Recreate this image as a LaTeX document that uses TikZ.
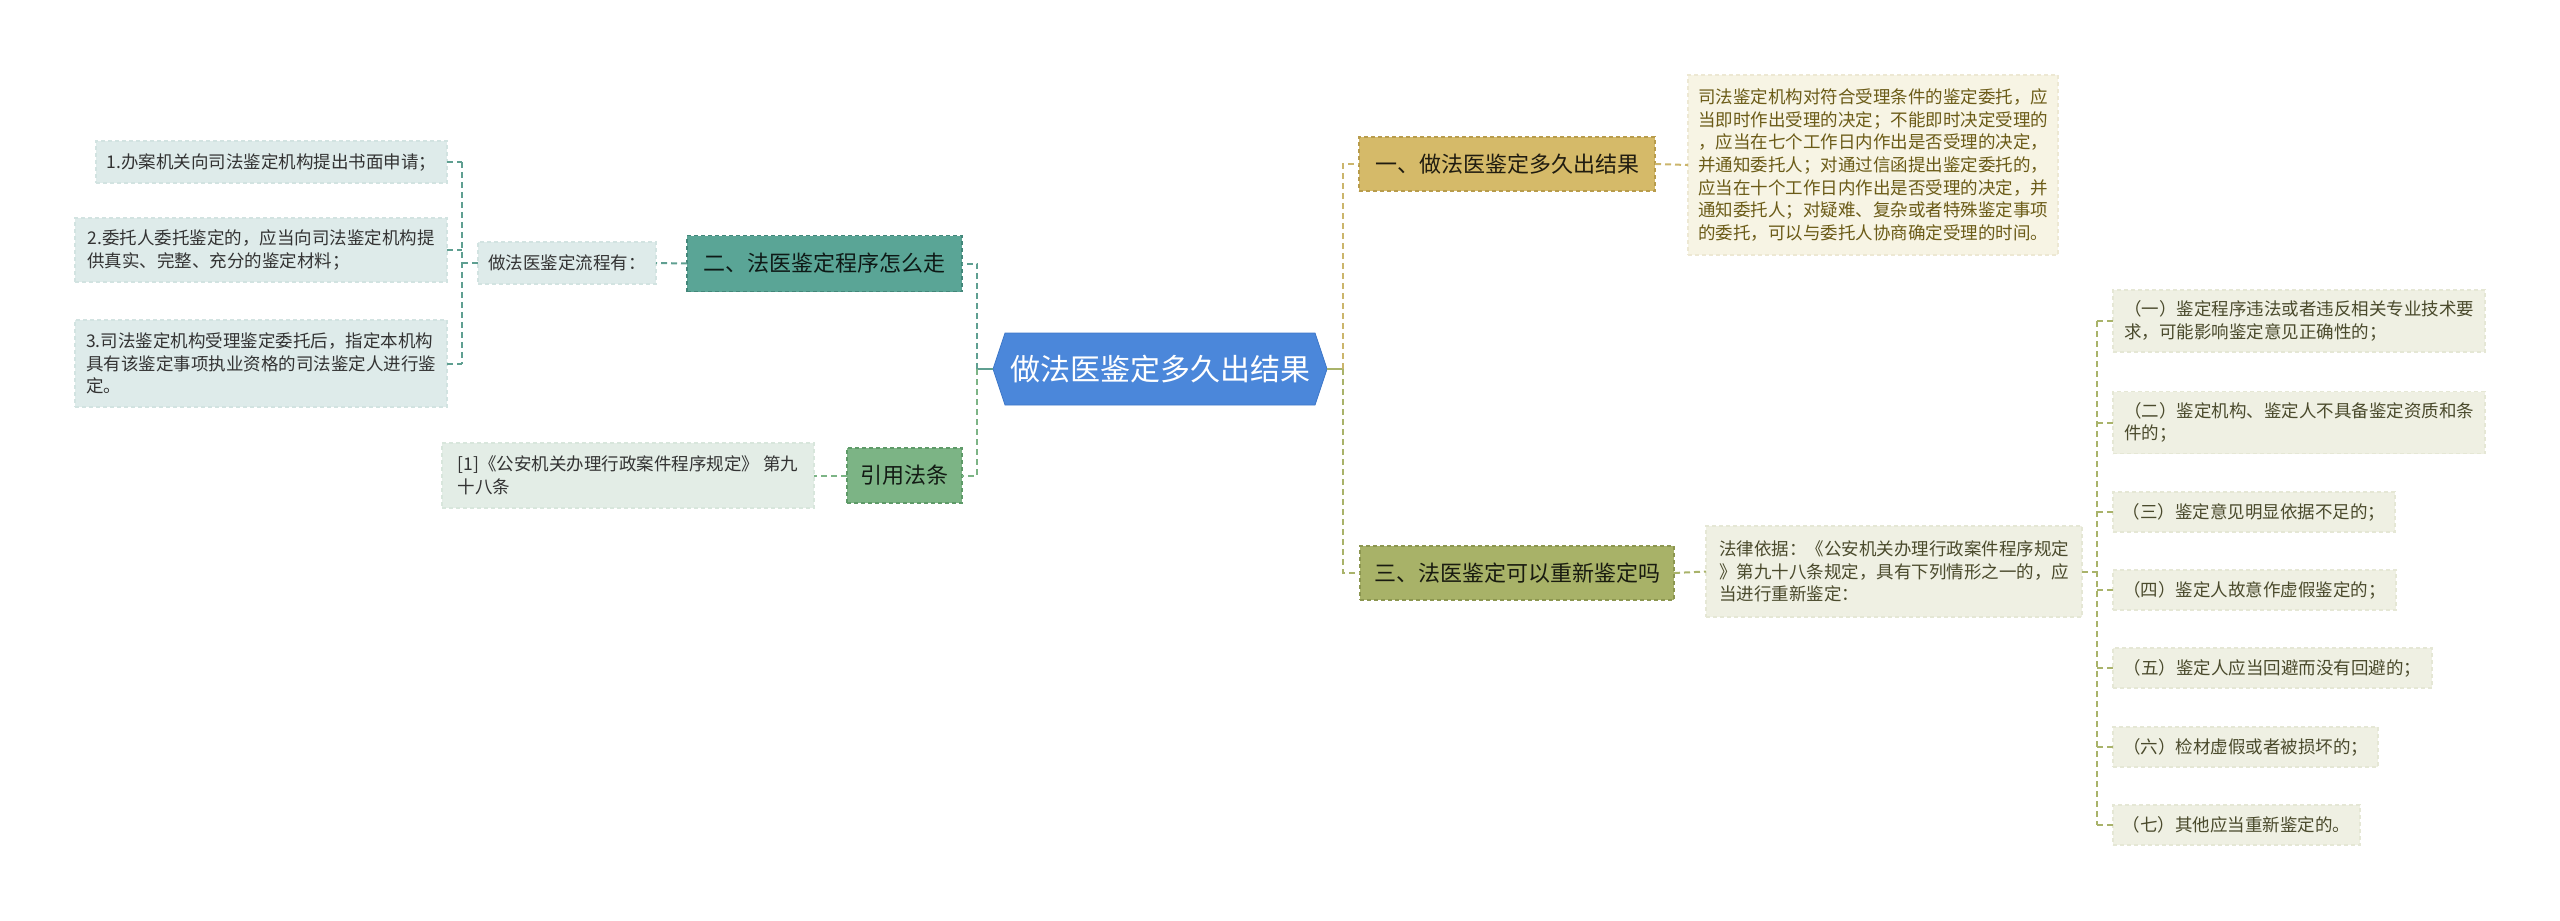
\documentclass[tikz,border=0pt]{standalone}
\usepackage{fontspec}
\setmainfont{Noto Sans CJK SC}
\definecolor{cblue}{HTML}{4B87DA}
\definecolor{cbluedk}{HTML}{3F78C8}
\definecolor{cteal}{HTML}{5AA596}
\definecolor{ctealdk}{HTML}{43877A}
\definecolor{cgreen}{HTML}{7CB485}
\definecolor{cgreendk}{HTML}{5E9A68}
\definecolor{cgold}{HTML}{D5BA69}
\definecolor{cgolddk}{HTML}{B89C4C}
\definecolor{colive}{HTML}{A8B268}
\definecolor{colivedk}{HTML}{8C9650}
\definecolor{ltteal}{HTML}{DEEBEA}
\definecolor{ltteald}{HTML}{D2E3E1}
\definecolor{ltgreen}{HTML}{E3EDE6}
\definecolor{ltgreend}{HTML}{D8E6DC}
\definecolor{cream}{HTML}{F7F4E4}
\definecolor{creamd}{HTML}{EDE8D3}
\definecolor{ltolive}{HTML}{EFF0E3}
\definecolor{ltolived}{HTML}{E5E7D5}
\definecolor{txdark}{HTML}{333333}
\definecolor{txcream}{HTML}{6B5B17}
\definecolor{txolive}{HTML}{4A4A2C}
\definecolor{lteal}{HTML}{5F9F91}
\definecolor{lgreen}{HTML}{7CB485}
\definecolor{lgold}{HTML}{CBB56C}
\definecolor{lolive}{HTML}{A9B36A}
\newcommand\myfs{\fontsize{17.5}{22.7}\selectfont}
\newcommand\mybig{\fontsize{22}{26}\selectfont}
\newcommand\myhuge{\fontsize{30}{34}\selectfont}
\begin{document}
\begin{tikzpicture}[x=1pt,y=-1pt,
  every node/.style={inner sep=0pt,outer sep=0pt},
  bx/.style={rectangle,draw,dash pattern=on 4pt off 3pt,line width=1.3pt,align=left},
  leafteal/.style={bx,fill=ltteal,draw=ltteald,text=txdark,font=\myfs},
  leafgreen/.style={bx,fill=ltgreen,draw=ltgreend,text=txdark,font=\myfs},
  leafcream/.style={bx,fill=cream,draw=creamd,text=txcream,font=\myfs},
  leafolive/.style={bx,fill=ltolive,draw=ltolived,text=txolive,font=\myfs},
  branch/.style={bx,font=\mybig,minimum height=54pt},
  conn/.style={dash pattern=on 6pt off 4pt,line width=2pt},
  stub/.style={line width=2pt}]
\useasboundingbox (0,0) rectangle (2560,921);

% central hexagon
\path (1160,369) node[minimum width=334pt,minimum height=72pt] (c) {};
\filldraw[fill=cblue,draw=cbluedk,line width=0.8pt] (c.west) -- ([xshift=12pt]c.north west) -- ([xshift=-12pt]c.north east) -- (c.east) -- ([xshift=-12pt]c.south east) -- ([xshift=12pt]c.south west) -- cycle;
\node[text=white,font=\myhuge] (ct) at (c.center) {做法医鉴定多久出结果};

% left branches
\node[branch,fill=cteal,draw=ctealdk,text=black!85!cteal,minimum width=275pt,minimum height=56pt] (b2) at (824.5,263.5) {二、法医鉴定程序怎么走};
\node[leafteal,minimum width=178pt,minimum height=42pt] (flow) at (567,263) {做法医鉴定流程有：};
\node[leafteal,minimum width=351pt,minimum height=42pt] (i1) at (271.5,162) {1.办案机关向司法鉴定机构提出书面申请；};
\node[leafteal,minimum width=372pt,minimum height=64pt] (i2) at (261,250) {2.委托人委托鉴定的，应当向司法鉴定机构提\\供真实、完整、充分的鉴定材料；};
\node[leafteal,minimum width=372pt,minimum height=87pt] (i3) at (261,363.5) {3.司法鉴定机构受理鉴定委托后，指定本机构\\具有该鉴定事项执业资格的司法鉴定人进行鉴\\定。};

\node[branch,fill=cgreen,draw=cgreendk,text=black!85!cgreen,minimum width=115pt,minimum height=55pt] (law) at (904.5,475.5) {引用法条};
\node[leafgreen,minimum width=372pt,minimum height=65pt] (lawt) at (628,475.5) {[1]《公安机关办理行政案件程序规定》 第九\\十八条};

% right branches
\node[branch,fill=cgold,draw=cgolddk,text=black!85!cgold,minimum width=296pt] (b1) at (1507,164) {一、做法医鉴定多久出结果};
\node[leafcream,minimum width=370pt,minimum height=180pt] (b1t) at (1873,165) {司法鉴定机构对符合受理条件的鉴定委托，应\\当即时作出受理的决定；不能即时决定受理的\\，应当在七个工作日内作出是否受理的决定，\\并通知委托人；对通过信函提出鉴定委托的，\\应当在十个工作日内作出是否受理的决定，并\\通知委托人；对疑难、复杂或者特殊鉴定事项\\的委托，可以与委托人协商确定受理的时间。};

\node[branch,fill=colive,draw=colivedk,text=black!85!colive,minimum width=314pt] (b3) at (1517,573) {三、法医鉴定可以重新鉴定吗};
\node[leafolive,minimum width=376pt,minimum height=91pt] (b3t) at (1894,571.5) {法律依据：《公安机关办理行政案件程序规定\\》第九十八条规定，具有下列情形之一的，应\\当进行重新鉴定：};

\node[leafolive,anchor=west,minimum width=372pt,minimum height=62pt] (r1) at (2113,321) {（一）鉴定程序违法或者违反相关专业技术要\\求，可能影响鉴定意见正确性的；};
\node[leafolive,anchor=west,minimum width=372pt,minimum height=62pt] (r2) at (2113,422.5) {（二）鉴定机构、鉴定人不具备鉴定资质和条\\件的；};
\node[leafolive,anchor=west,minimum width=282pt,minimum height=40pt] (r3) at (2113,512) {（三）鉴定意见明显依据不足的；};
\node[leafolive,anchor=west,minimum width=283pt,minimum height=40pt] (r4) at (2113,590) {（四）鉴定人故意作虚假鉴定的；};
\node[leafolive,anchor=west,minimum width=319pt,minimum height=40pt] (r5) at (2113,668) {（五）鉴定人应当回避而没有回避的；};
\node[leafolive,anchor=west,minimum width=265pt,minimum height=40pt] (r6) at (2113,747) {（六）检材虚假或者被损坏的；};
\node[leafolive,anchor=west,minimum width=247pt,minimum height=40pt] (r7) at (2113,825) {（七）其他应当重新鉴定的。};

% junction coordinates
\coordinate (jl) at (977,369);
\coordinate (jr) at (1343,369);
\coordinate (jf) at (462,263);
\coordinate (jo) at (2097,571.5);

% left main connectors
\draw[stub,lteal] (c.west) -- (jl);
\draw[conn,lteal] (jl) -- (jl |- b2.east) -- (b2.east);
\draw[conn,lgreen] (jl) -- (jl |- law.east) -- (law.east);
\draw[conn,lteal] (b2.west) -- (flow.east);
\draw[conn,lteal] (flow.west) -- (jf);
\draw[conn,lteal] (jf |- i1.east) -- (jf |- i3.east);
\draw[conn,lteal] (i1.east) -- (jf |- i1.east);
\draw[conn,lteal] (i2.east) -- (jf |- i2.east);
\draw[conn,lteal] (i3.east) -- (jf |- i3.east);
\draw[conn,lgreen] (law.west) -- (lawt.east);

% right main connectors
\draw[stub,lolive] (c.east) -- (jr);
\draw[conn,lgold] (jr) -- (jr |- b1.west) -- (b1.west);
\draw[conn,lolive] (jr) -- (jr |- b3.west) -- (b3.west);
\draw[conn,lgold] (b1.east) -- (b1t.west);
\draw[conn,lolive] (b3.east) -- (b3t.west);
\draw[conn,lolive] (b3t.east) -- (jo);
\draw[conn,lolive] (jo |- r1.west) -- (jo |- r7.west);
\foreach \n in {r1,r2,r3,r4,r5,r6,r7}
  \draw[conn,lolive] (jo |- \n.west) -- (\n.west);
\end{tikzpicture}
\end{document}
